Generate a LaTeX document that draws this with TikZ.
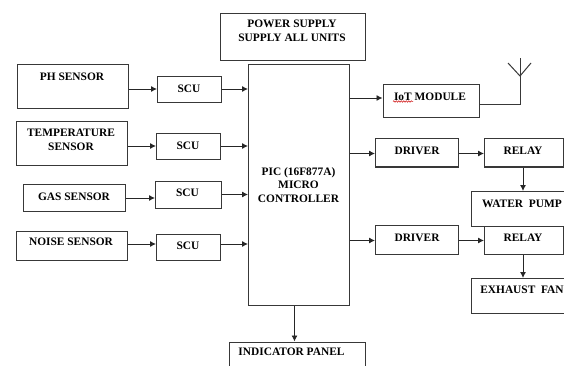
\documentclass[tikz,border=0pt]{standalone}
\usepackage{fontspec}
\setmainfont{Liberation Serif}
\usetikzlibrary{arrows.meta,decorations.pathmorphing}
\definecolor{linec}{gray}{0.22}
\tikzset{
  x=1pt,y=-1pt,
  boxn/.style={draw=linec,line width=1pt,inner sep=0pt,fill=none},
  txt/.style={font=\fontsize{11.4}{13.5}\selectfont\bfseries,text=black,inner sep=0pt,align=center,yshift=-0.8pt},
  conn/.style={draw=black!85,line width=0.9pt,-{Latex[length=6pt,width=6pt]}},
  wire/.style={draw=linec,line width=1pt},
}
% name, x1, y1, x2, y2
\newcommand{\bx}[5]{\node[boxn,minimum width={(#4-#2)*1pt},minimum height={(#5-#3)*1pt}] (#1) at ({(#2+#4)/2},{(#3+#5)/2}) {};}
\begin{document}
\begin{tikzpicture}
\useasboundingbox (0,0) rectangle (564,366);
\clip (0,0) rectangle (564,366);
\fill[white] (0,0) rectangle (564,366);
\bx{power}{220.5}{13.5}{365}{60.5}
\bx{pic}{248.5}{64.5}{349}{305.5}
\bx{ph}{17}{64.5}{128}{109}
\bx{temp}{16.5}{121.5}{127.5}{166}
\bx{gas}{23}{184.5}{125.5}{211}
\bx{noise}{16.5}{231.5}{127.5}{260.5}
\bx{scua}{157.5}{77}{221.5}{103}
\bx{scub}{156.5}{133.5}{220.5}{160}
\bx{scuc}{155.5}{181.5}{221.5}{208}
\bx{scud}{156.5}{234}{220.5}{260.5}
\bx{iot}{383}{85}{479.5}{118}
\bx{drva}{375.5}{138.5}{458}{167}
\bx{rlya}{484.5}{138.5}{563.5}{167}
\bx{pump}{471.5}{191.5}{572}{226.5}
\bx{drvb}{375.5}{225.5}{458}{254.5}
\bx{rlyb}{484.5}{226.5}{563.5}{254.5}
\bx{fan}{471.5}{278.5}{572}{313.5}
\bx{panel}{229}{342}{365}{375}
\node[txt] (tpower) at (292,30) {POWER SUPPLY\\SUPPLY ALL UNITS};
\node[txt] (tpic) at (298.5,184) {PIC (16F877A)\\MICRO\\CONTROLLER};
\node[txt] (tph) at (72,76) {PH SENSOR};
\node[txt] (ttemp) at (71,139) {TEMPERATURE\\SENSOR};
\node[txt] (tgas) at (74,195.5) {GAS SENSOR};
\node[txt] (tnoise) at (71,241) {NOISE SENSOR};
\node[txt] (tscua) at (189,88) {SCU};
\node[txt] (tscub) at (188,145) {SCU};
\node[txt] (tscuc) at (187.5,192) {SCU};
\node[txt] (tscud) at (188,245) {SCU};
\node[txt] (tiot) at (430,95.5) {IoT MODULE};
\node[txt] (tdrva) at (417,150) {DRIVER};
\node[txt] (trlya) at (523,150) {RELAY};
\node[txt] (tpump) at (522,203) {WATER\ \ PUMP};
\node[txt] (tdrvb) at (417,237) {DRIVER};
\node[txt] (trlyb) at (523,237) {RELAY};
\node[txt] (tfan) at (522,289) {EXHAUST\ \ FAN};
\node[txt] (tpanel) at (291.5,351) {INDICATOR PANEL};
\draw[red!80!black,line width=0.5pt,decorate,decoration={snake,amplitude=0.7pt,segment length=2.5pt}] (393,101.5) -- (413,101.5);
% sensors to SCU
\coordinate (ya) at (0,89);
\coordinate (yb) at (0,146);
\coordinate (yc) at (0,198);
\coordinate (yd) at (0,244);
\draw[conn] (ph.east |- ya) -- (scua.west |- ya);
\draw[conn] (temp.east |- yb) -- (scub.west |- yb);
\draw[conn] (gas.east |- yc) -- (scuc.west |- yc);
\draw[conn] (noise.east |- yd) -- (scud.west |- yd);
% SCU to controller
\draw[conn] (scua.east |- ya) -- (pic.west |- ya);
\draw[conn] (scub.east |- yb) -- (pic.west |- yb);
\coordinate (yc2) at (0,194.5);
\coordinate (yd2) at (0,244);
\draw[conn] (scuc.east |- yc2) -- (pic.west |- yc2);
\draw[conn] (scud.east |- yd2) -- (pic.west |- yd2);
% controller outputs
\coordinate (yi) at (0,98);
\coordinate (ye) at (0,153.5);
\coordinate (yf) at (0,240.5);
\draw[conn] (pic.east |- yi) -- (iot.west |- yi);
\draw[conn] (pic.east |- ye) -- (drva.west |- ye);
\draw[conn] (pic.east |- yf) -- (drvb.west |- yf);
\draw[conn] (drva.east |- ye) -- (rlya.west |- ye);
\draw[conn] (drvb.east |- yf) -- (rlyb.west |- yf);
\coordinate (xr) at (523,0);
\draw[conn] (rlya.south -| xr) -- (pump.north -| xr);
\draw[conn] (rlyb.south -| xr) -- (fan.north -| xr);
\coordinate (xp) at (294.5,0);
\draw[conn] (pic.south -| xp) -- (panel.north -| xp);
% antenna
\coordinate (anttop) at (520,58);
\coordinate (antfork) at (520,76);
\coordinate (antl) at (508,63);
\coordinate (antr) at (531,63);
\coordinate (yant) at (0,105);
\draw[wire] (iot.east |- yant) -| (anttop);
\draw[wire] (antl) -- (antfork) -- (antr);
\end{tikzpicture}
\end{document}
